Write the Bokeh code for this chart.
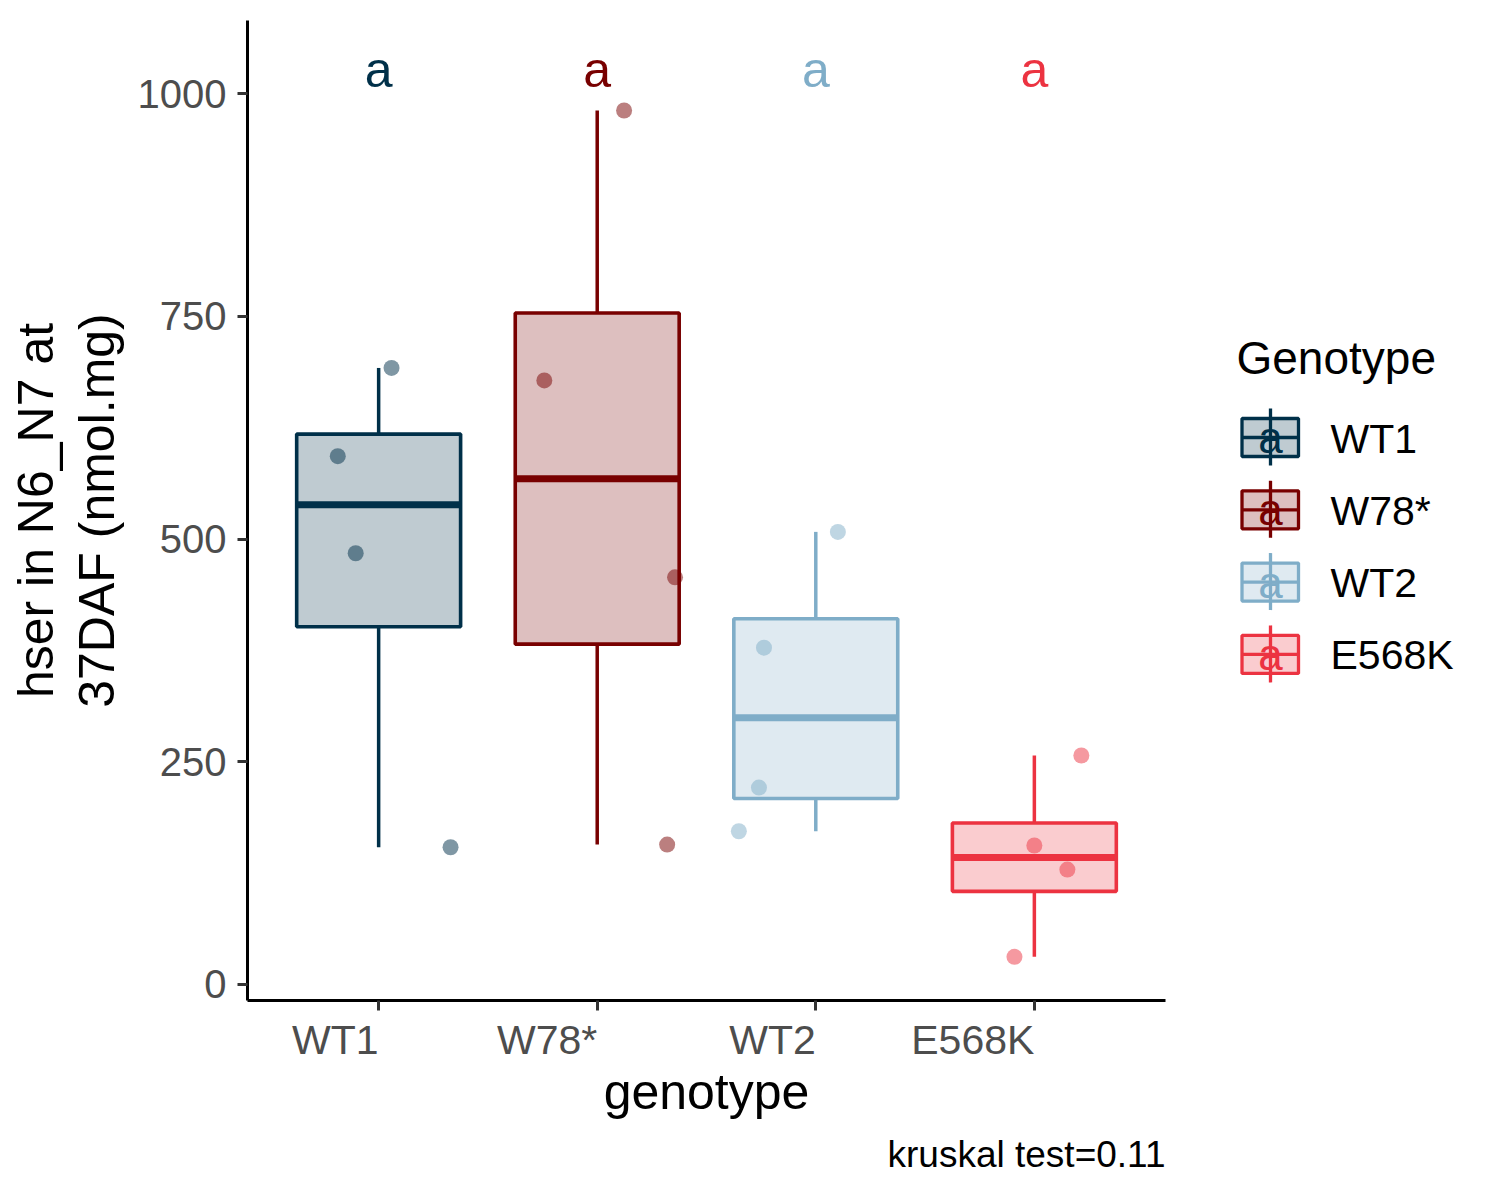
import numpy as np
from bokeh.plotting import figure
from bokeh.models import Range1d, FixedTicker, LinearAxis, Title
from bokeh.layouts import row
from bokeh.core.properties import value
from bokeh.embed import file_html
from bokeh.resources import INLINE

# ---------------- data ----------------
genotypes = ["WT1", "W78*", "WT2", "E568K"]
colors = ["#003049", "#780000", "#7fadc8", "#ec3341"]

wt1_values = [593, 484, 692, 154]
w78_values = [678, 981, 457, 157]
wt2_values = [508, 378, 221, 172]
e568k_values = [257, 156, 129, 31]

# horizontal jitter of each point (in category units)
wt1_jitter = [-0.187, -0.105, 0.059, 0.329]
w78_jitter = [-0.242, 0.123, 0.356, 0.320]
wt2_jitter = [0.101, -0.237, -0.260, -0.352]
e568k_jitter = [0.215, 0.0, 0.151, -0.091]

letters = ["a", "a", "a", "a"]
letter_y = 1027
y_ticks = [0, 250, 500, 750, 1000]
caption = "kruskal test=0.11"
y_title = "hser in N6_N7 at\n37DAF (nmol.mg)"
x_title = "genotype"
legend_title = "Genotype"

all_values = [wt1_values, w78_values, wt2_values, e568k_values]
all_jitter = [wt1_jitter, w78_jitter, wt2_jitter, e568k_jitter]

FONT = "Liberation Sans"
BOX_W = 0.75
FRAME_W, FRAME_H = 918, 980
X_LO, X_HI = 0.4, 4.6
TICK_PX = 41

# advance widths (1/1000 em) of Liberation Sans, to right-align tick labels
ADV = {"W": 944, "T": 611, "1": 556, "7": 556, "8": 556, "*": 389,
       "2": 556, "E": 667, "5": 556, "6": 556, "K": 667}


def box_stats(v):
    v = np.asarray(v, dtype=float)
    q1, med, q3 = np.percentile(v, [25, 50, 75])
    iqr = q3 - q1
    lo = v[v >= q1 - 1.5 * iqr].min()
    hi = v[v <= q3 + 1.5 * iqr].max()
    return q1, med, q3, lo, hi


pos = list(range(1, len(genotypes) + 1))
stats = [box_stats(v) for v in all_values]
q1s = [s[0] for s in stats]
meds = [s[1] for s in stats]
q3s = [s[2] for s in stats]
los = [s[3] for s in stats]
his = [s[4] for s in stats]

# ---------------- main figure ----------------
p = figure(frame_width=FRAME_W, frame_height=FRAME_H,
           min_border_left=247, min_border_right=43,
           min_border_top=20, min_border_bottom=10,
           x_range=Range1d(X_LO, X_HI), y_range=Range1d(-18, 1082),
           output_backend="svg", toolbar_location=None,
           background_fill_color="white", border_fill_color="white")
p.outline_line_color = None
p.grid.visible = False

# whiskers
p.segment(x0=pos, y0=q3s, x1=pos, y1=his, line_color=colors, line_width=3.5)
p.segment(x0=pos, y0=q1s, x1=pos, y1=los, line_color=colors, line_width=3.5)
# boxes
p.quad(left=[x - BOX_W / 2 for x in pos], right=[x + BOX_W / 2 for x in pos],
       bottom=q1s, top=q3s, fill_color=colors, fill_alpha=0.25,
       line_color=colors, line_width=3.6)
# medians
p.segment(x0=[x - BOX_W / 2 for x in pos], y0=meds,
          x1=[x + BOX_W / 2 for x in pos], y1=meds,
          line_color=colors, line_width=7)

# jittered points
for i, (vals, jit) in enumerate(zip(all_values, all_jitter)):
    p.scatter(x=[pos[i] + j for j in jit], y=vals, size=16,
              fill_color=colors[i], fill_alpha=0.5, line_color=None)

# significance letters
p.text(x=pos, y=[letter_y] * len(pos), text=letters, text_color=colors,
       text_align="center", text_baseline="middle",
       text_font=value(FONT), text_font_size="50px")

# y axis
yax = p.yaxis[0]
yax.ticker = FixedTicker(ticks=y_ticks)
yax.axis_label = y_title
yax.axis_label_text_font = FONT
yax.axis_label_text_font_size = "50px"
yax.axis_label_text_font_style = "normal"
yax.axis_label_text_color = "black"
yax.axis_label_text_line_height = 1.08
yax.axis_label_standoff = 10
yax.major_label_text_font = FONT
yax.major_label_text_font_size = "40px"
yax.major_label_text_color = "#4d4d4d"
yax.major_label_standoff = 11
yax.axis_line_width = 3
yax.axis_line_color = "black"
yax.major_tick_line_width = 3
yax.major_tick_line_color = "#333333"
yax.major_tick_out = 10
yax.major_tick_in = 0
yax.minor_tick_line_color = None

# x axis: line and tick marks only
xax = p.xaxis[0]
xax.ticker = FixedTicker(ticks=pos)
xax.major_label_overrides = {x: "" for x in pos}
xax.major_label_text_font_size = "0px"
xax.major_label_standoff = 0
xax.axis_line_width = 3
xax.axis_line_color = "black"
xax.major_tick_line_width = 3
xax.major_tick_line_color = "#333333"
xax.major_tick_out = 10
xax.major_tick_in = 0
xax.minor_tick_line_color = None

# second x axis carrying the category labels, each right-aligned at its tick
px_per_unit = FRAME_W / (X_HI - X_LO)
label_ticks = []
for x, g in zip(pos, genotypes):
    w = sum(ADV[c] for c in g) / 1000 * TICK_PX
    label_ticks.append(round(x - w / 2 / px_per_unit, 5))
lab_ax = LinearAxis(ticker=FixedTicker(ticks=label_ticks),
                    major_label_overrides=dict(zip(label_ticks, genotypes)))
lab_ax.axis_line_color = None
lab_ax.major_tick_line_color = None
lab_ax.minor_tick_line_color = None
lab_ax.major_tick_out = 0
lab_ax.major_tick_in = 0
lab_ax.major_label_standoff = 6
lab_ax.major_label_text_font = FONT
lab_ax.major_label_text_font_size = f"{TICK_PX}px"
lab_ax.major_label_text_color = "#4d4d4d"
lab_ax.axis_label = x_title
lab_ax.axis_label_text_font = FONT
lab_ax.axis_label_text_font_size = "50px"
lab_ax.axis_label_text_font_style = "normal"
lab_ax.axis_label_text_color = "black"
lab_ax.axis_label_standoff = -2
p.add_layout(lab_ax, "below")

# caption
cap = Title(text=caption, align="right", text_font=FONT,
            text_font_size="37px", text_font_style="normal",
            text_color="black", standoff=19)
p.add_layout(cap, "below")

# ---------------- legend figure (page pixel coordinates) ----------------
lg = figure(frame_width=284, frame_height=FRAME_H,
            min_border_top=20, min_border_left=0, min_border_right=0,
            min_border_bottom=0,
            x_range=Range1d(1208, 1492), y_range=Range1d(1000, 20),
            output_backend="svg", toolbar_location=None,
            background_fill_color="white", border_fill_color="white")
lg.axis.visible = False
lg.grid.visible = False
lg.outline_line_color = None

n = len(genotypes)
key_cy = [437 + 72.3 * i for i in range(n)]
key_l, key_r, key_cx = 1241.5, 1298, 1270
lg.segment(x0=[key_cx] * n, y0=[c - 29 for c in key_cy], x1=[key_cx] * n,
           y1=[c + 28 for c in key_cy], line_color=colors, line_width=3.3)
lg.quad(left=[key_l] * n, right=[key_r] * n, top=[c - 19 for c in key_cy],
        bottom=[c + 19 for c in key_cy], fill_color=colors, fill_alpha=0.25,
        line_color=colors, line_width=3.3)
lg.segment(x0=[key_l] * n, y0=key_cy, x1=[key_r] * n, y1=key_cy,
           line_color=colors, line_width=3.3)
lg.text(x=[key_cx] * n, y=key_cy, text=letters, text_color=colors,
        text_align="center", text_baseline="middle",
        text_font=value(FONT), text_font_size="44px")
lg.text(x=[1330] * n, y=[c + 1 for c in key_cy], text=genotypes,
        text_color="black", text_align="left", text_baseline="middle",
        text_font=value(FONT), text_font_size="41px")
lg.text(x=[1236], y=[357], text=[legend_title], text_color="black",
        text_align="left", text_baseline="middle",
        text_font=value(FONT), text_font_size="46px")

layout = row(p, lg)
open("out.html", "w").write(file_html(layout, INLINE))
